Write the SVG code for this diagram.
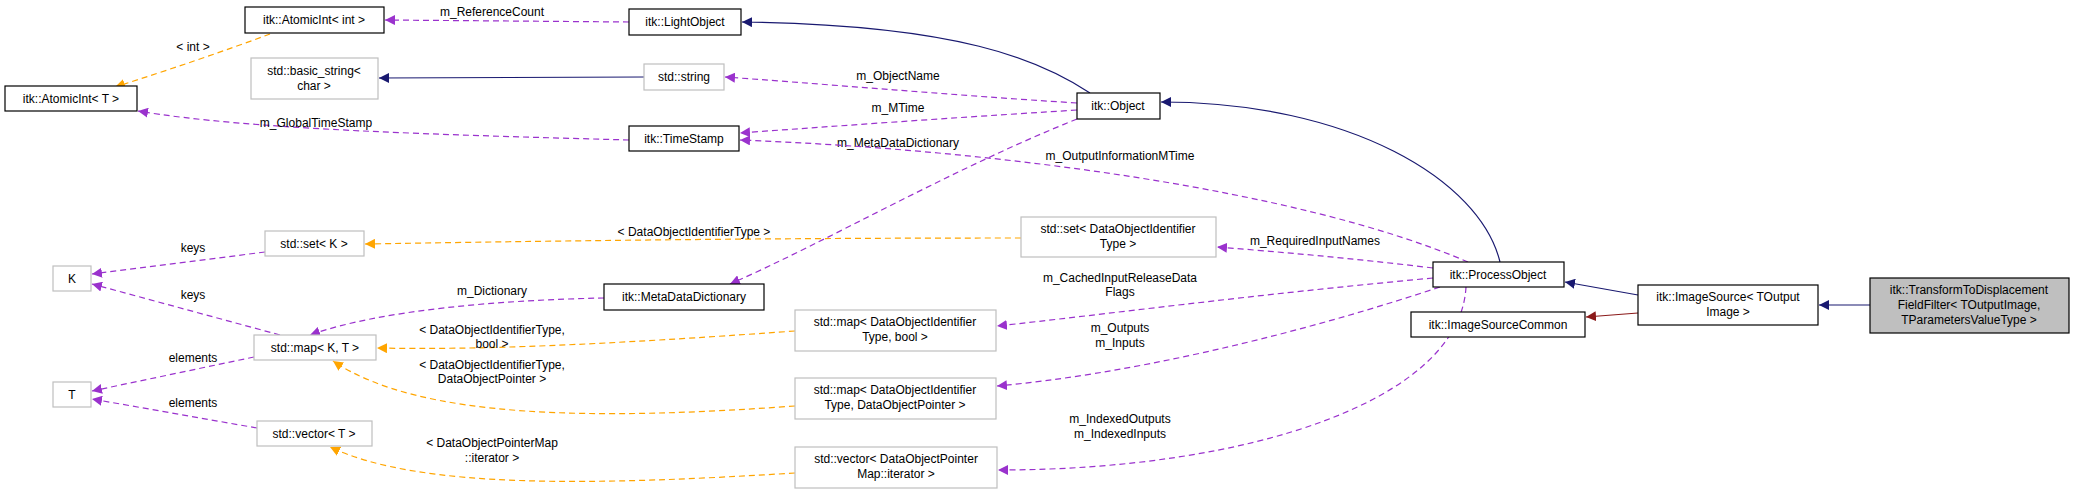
<svg xmlns="http://www.w3.org/2000/svg" width="2075" height="493" viewBox="0 0 2075 493">
<style>
text{font-family:"Liberation Sans",Arial,sans-serif;font-size:12px;fill:#000;text-anchor:middle}
.n rect{fill:#fff;stroke:#000;stroke-width:1.2}
.g rect{fill:#fff;stroke:#bfbfbf;stroke-width:1.2}
.e path{fill:none;stroke-width:1.2}
.p{stroke:#9a32cd;stroke-dasharray:6,4}
.o{stroke:#ffa500;stroke-dasharray:6,4}
.b{stroke:#191970}
.r{stroke:#8b1a1a}
</style>
<defs>
<marker id="mp" viewBox="0 0 10 10" refX="10" refY="5" markerWidth="10" markerHeight="10" markerUnits="userSpaceOnUse" orient="auto"><path d="M0,0L10,5L0,10z" fill="#9a32cd"/></marker>
<marker id="mo" viewBox="0 0 10 10" refX="10" refY="5" markerWidth="10" markerHeight="10" markerUnits="userSpaceOnUse" orient="auto"><path d="M0,0L10,5L0,10z" fill="#ffa500"/></marker>
<marker id="mb" viewBox="0 0 10 10" refX="10" refY="5" markerWidth="10" markerHeight="10" markerUnits="userSpaceOnUse" orient="auto"><path d="M0,0L10,5L0,10z" fill="#191970"/></marker>
<marker id="mr" viewBox="0 0 10 10" refX="10" refY="5" markerWidth="10" markerHeight="10" markerUnits="userSpaceOnUse" orient="auto"><path d="M0,0L10,5L0,10z" fill="#8b1a1a"/></marker>
</defs>
<g id="edges" class="e">
<path class="p" d="M629,22 L385,20" marker-end="url(#mp)"/>
<text x="492" y="16">m_ReferenceCount</text>
<path class="o" d="M270,34 Q200,60 115,87" marker-end="url(#mo)"/>
<text x="193" y="51">&lt; int &gt;</text>
<path class="b" d="M644,77 L379,78" marker-end="url(#mb)"/>
<path class="p" d="M629,140 C450,135 250,130 138,111" marker-end="url(#mp)"/>
<text x="316" y="127">m_GlobalTimeStamp</text>
<path class="b" d="M1090,93 C1040,60 960,25 742,22" marker-end="url(#mb)"/>
<path class="p" d="M1077,103 C950,95 850,86 725,77" marker-end="url(#mp)"/>
<text x="898" y="80">m_ObjectName</text>
<path class="p" d="M1077,110 C950,118 850,125 740,133" marker-end="url(#mp)"/>
<text x="898" y="112">m_MTime</text>
<path class="p" d="M1077,119 C950,170 830,240 730,284" marker-end="url(#mp)"/>
<text x="898" y="147">m_MetaDataDictionary</text>
<path class="b" d="M1500,262 C1480,180 1350,102 1161,102" marker-end="url(#mb)"/>
<path class="p" d="M1468,262 C1300,190 1000,150 740,140" marker-end="url(#mp)"/>
<text x="1120" y="160">m_OutputInformationMTime</text>
<path class="p" d="M1433,268 C1350,258 1280,252 1217,247" marker-end="url(#mp)"/>
<text x="1315" y="245">m_RequiredInputNames</text>
<path class="p" d="M1433,278 C1250,295 1100,315 997,326" marker-end="url(#mp)"/>
<text x="1120" y="282">m_CachedInputReleaseData</text>
<text x="1120" y="296">Flags</text>
<path class="p" d="M1440,287 C1280,340 1120,375 997,386" marker-end="url(#mp)"/>
<text x="1120" y="332">m_Outputs</text>
<text x="1120" y="347">m_Inputs</text>
<path class="p" d="M1466,287 C1460,400 1250,470 998,470" marker-end="url(#mp)"/>
<text x="1120" y="423">m_IndexedOutputs</text>
<text x="1120" y="438">m_IndexedInputs</text>
<path class="b" d="M1638,295 L1565,282" marker-end="url(#mb)"/>
<path class="r" d="M1638,313 L1586,317" marker-end="url(#mr)"/>
<path class="b" d="M1870,305 L1819,305" marker-end="url(#mb)"/>
<path class="o" d="M1021,238 C800,238 600,240 365,244" marker-end="url(#mo)"/>
<text x="694" y="236">&lt; DataObjectIdentifierType &gt;</text>
<path class="p" d="M604,298 C500,300 380,310 310,335" marker-end="url(#mp)"/>
<text x="492" y="295">m_Dictionary</text>
<path class="o" d="M795,331 C600,345 480,350 377,348" marker-end="url(#mo)"/>
<text x="492" y="334">&lt; DataObjectIdentifierType,</text>
<text x="492" y="348">bool &gt;</text>
<path class="o" d="M795,406 C600,420 420,420 333,361" marker-end="url(#mo)"/>
<text x="492" y="369">&lt; DataObjectIdentifierType,</text>
<text x="492" y="383">DataObjectPointer &gt;</text>
<path class="o" d="M795,473 C600,485 420,490 330,447" marker-end="url(#mo)"/>
<text x="492" y="447">&lt; DataObjectPointerMap</text>
<text x="492" y="462">::iterator &gt;</text>
<path class="p" d="M265,252 L92,274" marker-end="url(#mp)"/>
<text x="193" y="252">keys</text>
<path class="p" d="M280,335 L92,284" marker-end="url(#mp)"/>
<text x="193" y="299">keys</text>
<path class="p" d="M254,357 L92,391" marker-end="url(#mp)"/>
<text x="193" y="362">elements</text>
<path class="p" d="M257,428 L92,399" marker-end="url(#mp)"/>
<text x="193" y="407">elements</text>
</g>
<g id="AtomicIntInt" class="n"><rect x="245" y="7" width="139" height="26"/><text x="314" y="24">itk::AtomicInt&lt; int &gt;</text></g>
<g id="LightObject" class="n"><rect x="629" y="9" width="112" height="26"/><text x="685" y="26">itk::LightObject</text></g>
<g id="basic_string" class="g"><rect x="251" y="58" width="127" height="41"/><text x="314" y="75">std::basic_string&lt;</text><text x="314" y="90">char &gt;</text></g>
<g id="string" class="g"><rect x="644" y="64" width="80" height="26"/><text x="684" y="81">std::string</text></g>
<g id="AtomicIntT" class="n"><rect x="5" y="86" width="132" height="25"/><text x="71" y="103">itk::AtomicInt&lt; T &gt;</text></g>
<g id="TimeStamp" class="n"><rect x="629" y="126" width="110" height="25"/><text x="684" y="143">itk::TimeStamp</text></g>
<g id="Object" class="n"><rect x="1077" y="93" width="83" height="26"/><text x="1118" y="110">itk::Object</text></g>
<g id="setK" class="g"><rect x="265" y="231" width="99" height="25"/><text x="314" y="248">std::set&lt; K &gt;</text></g>
<g id="K" class="g"><rect x="53" y="266" width="38" height="25"/><text x="72" y="283">K</text></g>
<g id="MetaDataDictionary" class="n"><rect x="604" y="284" width="160" height="26"/><text x="684" y="301">itk::MetaDataDictionary</text></g>
<g id="mapKT" class="g"><rect x="254" y="335" width="122" height="25"/><text x="315" y="352">std::map&lt; K, T &gt;</text></g>
<g id="T" class="g"><rect x="53" y="382" width="38" height="25"/><text x="72" y="399">T</text></g>
<g id="vectorT" class="g"><rect x="257" y="421" width="115" height="25"/><text x="314" y="438">std::vector&lt; T &gt;</text></g>
<g id="setDOIT" class="g"><rect x="1021" y="217" width="195" height="40"/><text x="1118" y="233">std::set&lt; DataObjectIdentifier</text><text x="1118" y="248">Type &gt;</text></g>
<g id="mapBool" class="g"><rect x="795" y="310" width="201" height="41"/><text x="895" y="326">std::map&lt; DataObjectIdentifier</text><text x="895" y="341">Type, bool &gt;</text></g>
<g id="mapDOP" class="g"><rect x="795" y="378" width="201" height="41"/><text x="895" y="394">std::map&lt; DataObjectIdentifier</text><text x="895" y="409">Type, DataObjectPointer &gt;</text></g>
<g id="vectorDOPMap" class="g"><rect x="795" y="447" width="202" height="41"/><text x="896" y="463">std::vector&lt; DataObjectPointer</text><text x="896" y="478">Map::iterator &gt;</text></g>
<g id="ProcessObject" class="n"><rect x="1433" y="262" width="131" height="25"/><text x="1498" y="279">itk::ProcessObject</text></g>
<g id="ImageSourceCommon" class="n"><rect x="1411" y="312" width="174" height="25"/><text x="1498" y="329">itk::ImageSourceCommon</text></g>
<g id="ImageSource" class="n"><rect x="1638" y="285" width="180" height="40"/><text x="1728" y="301">itk::ImageSource&lt; TOutput</text><text x="1728" y="316">Image &gt;</text></g>
<g id="Final" class="n"><rect x="1870" y="278" width="199" height="55" style="fill:#bfbfbf"/><text x="1969" y="294">itk::TransformToDisplacement</text><text x="1969" y="309">FieldFilter&lt; TOutputImage,</text><text x="1969" y="324">TParametersValueType &gt;</text></g>
</svg>
